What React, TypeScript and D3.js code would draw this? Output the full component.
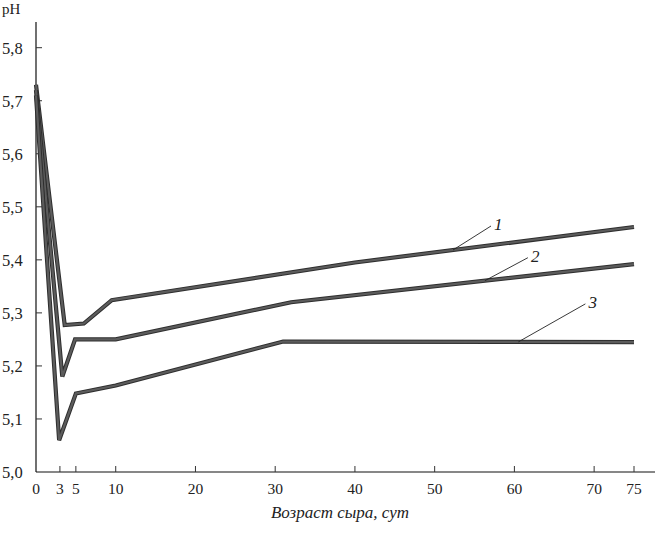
import React from 'react';
import * as d3 from 'd3';

// days vs pH
const curve1: [number, number][] = [[0, 5.73], [3.6, 5.277], [6, 5.28], [9.5, 5.324], [40, 5.395], [75, 5.462]];
const curve2: [number, number][] = [[0, 5.72], [3.3, 5.18], [4.9, 5.25], [10, 5.25], [32, 5.32], [75, 5.392]];
const curve3: [number, number][] = [[0, 5.71], [2.9, 5.06], [5, 5.148], [10, 5.163], [31, 5.246], [75, 5.245]];
const curves = [curve1, curve2, curve3];
const curveNames = ['1', '2', '3'];
// day where each leader line touches its curve
const labelDays = [52.3, 56.3, 60.5];

const xTicks = [0, 3, 5, 10, 20, 30, 40, 50, 60, 70, 75];
const yTicks = [5.0, 5.1, 5.2, 5.3, 5.4, 5.5, 5.6, 5.7, 5.8];

const W = 660;
const H = 537;
const font = '"Liberation Serif", "Times New Roman", serif';

// leader offsets in px (to the label end), kept out of the data
const leaderOffsets = [[38, -24], [43, -23], [67, -38]];

export default function App() {
  const x = d3.scaleLinear().domain([0, 75]).range([36, 634]);
  const y = d3.scaleLinear().domain([5.0, 5.8]).range([472, 47.7]);

  const line = d3.line<[number, number]>()
    .x(d => x(d[0]))
    .y(d => y(d[1]));

  const valueAt = (c: [number, number][], day: number) => {
    const days = c.map(d => d[0]);
    const i = Math.max(1, d3.bisectLeft(days, day));
    const a = c[i - 1], b = c[i];
    return a[1] + (b[1] - a[1]) * (day - a[0]) / (b[0] - a[0]);
  };

  const fmt = (v: number) => v.toFixed(1).replace('.', ',');

  return (
    <svg width={W} height={H} style={{ display: 'block', position: 'absolute', left: 0, top: 0, background: '#fff' }}>
      {/* axes */}
      <line x1={x(0)} x2={x(0)} y1={22} y2={y(5.0)} stroke="#111" strokeWidth={1.2} />
      <line x1={x(0)} x2={655} y1={y(5.0)} y2={y(5.0)} stroke="#111" strokeWidth={1.2} />

      {yTicks.map(t => (
        <g key={'y' + t}>
          {t > 5.0 && <line x1={x(0)} x2={x(0) + 6} y1={y(t)} y2={y(t)} stroke="#333" strokeWidth={1} />}
          <text x={2} y={y(t) + 6} fontFamily={font} fontSize={16.5} fill="#222">{fmt(t)}</text>
        </g>
      ))}
      {xTicks.map(t => (
        <g key={'x' + t}>
          {t > 0 && <line x1={x(t)} x2={x(t)} y1={y(5.0)} y2={y(5.0) - 6} stroke="#333" strokeWidth={1} />}
          <text x={x(t)} y={y(5.0) + 22} textAnchor="middle" fontFamily={font} fontSize={15.5} fill="#222">{t}</text>
        </g>
      ))}

      <text x={2} y={14} fontFamily={font} fontSize={15} fill="#222">pH</text>
      <text x={340} y={518} textAnchor="middle" fontFamily={font} fontStyle="italic" fontSize={17} fill="#222">Возраст сыра, сут</text>

      {/* curves: dark outline with grey core */}
      {curves.map((c, i) => (
        <g key={'c' + i}>
          <path d={line(c) || ''} fill="none" stroke="#2e2e2e" strokeWidth={4.2} strokeLinejoin="miter" />
          <path d={line(c) || ''} fill="none" stroke="#5c5c5c" strokeWidth={2.2} strokeLinejoin="miter" />
        </g>
      ))}

      {/* leader lines and curve numbers */}
      {curves.map((c, i) => {
        const px = x(labelDays[i]);
        const py = y(valueAt(c, labelDays[i]));
        const ex = px + leaderOffsets[i][0];
        const ey = py + leaderOffsets[i][1];
        return (
          <g key={'l' + i}>
            <line x1={px} y1={py} x2={ex} y2={ey} stroke="#222" strokeWidth={0.9} />
            <text x={ex + 3} y={ey + 4} fontFamily={font} fontStyle="italic" fontSize={17} fill="#222">{curveNames[i]}</text>
          </g>
        );
      })}
    </svg>
  );
}
